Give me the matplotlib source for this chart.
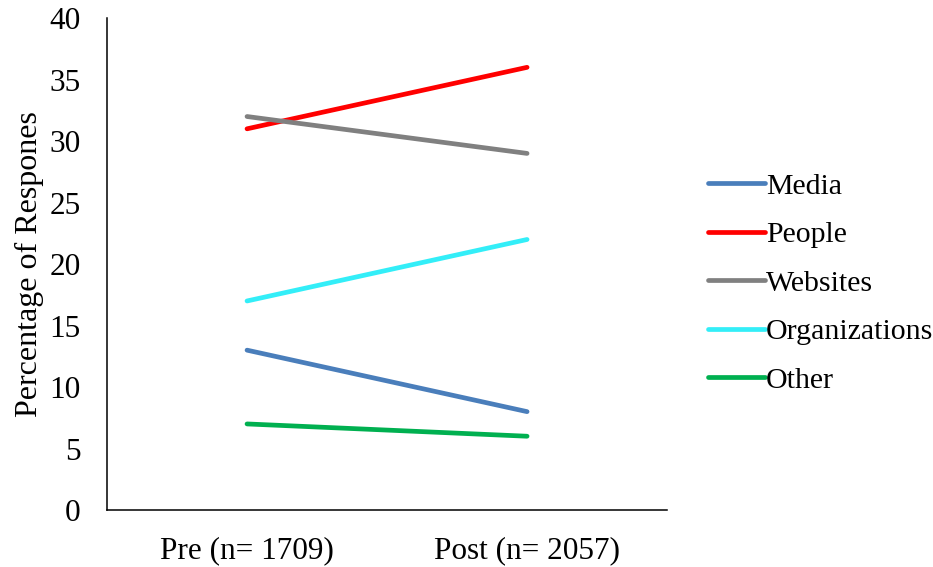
import matplotlib
matplotlib.use('Agg')
import matplotlib.pyplot as plt

# Chart values
categories = ['Pre (n= 1709)', 'Post (n= 2057)']
media = [13, 8]
people = [31, 36]
websites = [32, 29]
organizations = [17, 22]
other = [7, 6]

series = [('Media', media, '#4A7EBB'),
          ('People', people, '#FF0000'),
          ('Websites', websites, '#808080'),
          ('Organizations', organizations, '#33EEF8'),
          ('Other', other, '#00B050')]

plt.rcParams['font.family'] = 'Liberation Serif'

fig = plt.figure(figsize=(9.33, 5.67), dpi=100)
ax = fig.add_axes([0.1147, 0.1005, 0.6003, 0.8675])

x = list(range(len(categories)))
for name, vals, col in series:
    ax.plot(x, vals, color=col, linewidth=3.4, solid_capstyle='round', label=name)

ax.set_xlim(-0.5, 1.5)
ax.set_ylim(0, 40)
ax.set_yticks(range(0, 41, 5))
ax.set_xticks(x)
ax.set_xticklabels(categories)
ax.tick_params(axis='both', length=0, labelsize=22.5)
ax.tick_params(axis='y', pad=19)
ax.tick_params(axis='x', pad=19)
ax.spines['top'].set_visible(False)
ax.spines['right'].set_visible(False)
ax.spines['left'].set_linewidth(1.1)
ax.spines['bottom'].set_linewidth(1.1)
ax.set_ylabel('Percentage of Respones', fontsize=23, labelpad=4)

ax.legend(loc='center left', bbox_to_anchor=(1.073, 0.461), frameon=False,
          fontsize=21.5, handlelength=1.9, handletextpad=0.05, labelspacing=0.72,
          borderpad=0, borderaxespad=0)

fig.savefig('out.png', dpi=100)
